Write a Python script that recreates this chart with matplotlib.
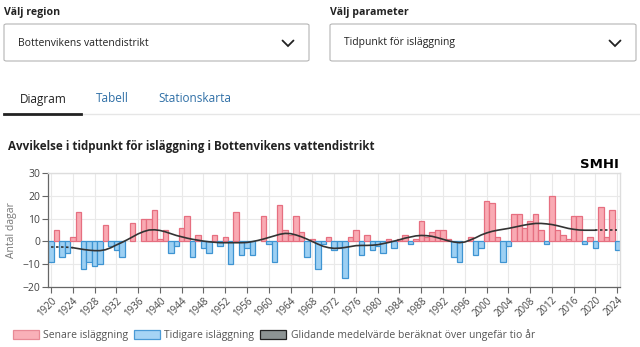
import matplotlib
matplotlib.use("Agg")
import matplotlib.pyplot as plt
from matplotlib.patches import FancyBboxPatch, Patch
from matplotlib.lines import Line2D
import numpy as np

plt.rcParams['font.family'] = ['Open Sans', 'DejaVu Sans']

# ---------------- data ----------------
years = list(range(1920, 2025))
deviation = [
    -9, 5, -7, -5, 2, 13, -12, -9, -11, -10,      # 1920-1929
    7, -2, -4, -7, 0, 8, 0, 10, 10, 14,           # 1930-1939
    1, 5, -5, -2, 6, 11, -7, 3, -3, -5,           # 1940-1949
    3, -2, 2, -10, 13, -6, -3, -6, 0, 11,         # 1950-1959
    -1, -9, 16, 5, 3, 11, 4, -7, 1, -12,          # 1960-1969
    -1, 2, -4, -3, -16, 2, 5, -6, 3, -4,          # 1970-1979
    -2, -5, 1, -3, 1, 3, -1, 1, 9, 2,             # 1980-1989
    4, 5, 5, 1, -7, -9, 0, 2, -6, -3,             # 1990-1999
    18, 17, 2, -9, -2, 12, 12, 6, 9, 12,          # 2000-2009
    5, -1, 20, 5, 3, 1, 11, 11, -1, 2,            # 2010-2019
    -3, 15, 2, 14, -4,                            # 2020-2024
]
moving_avg = [
    -2.5, -2.5, -2.5, -2.6, -2.8, -3.2, -3.6, -3.9, -4.1, -4.1,
    -3.7, -2.8, -1.6, -0.5, 0.7, 2.0, 3.3, 4.3, 5.0, 5.1,
    4.8, 4.2, 3.4, 2.6, 2.0, 1.4, 0.9, 0.5, 0.1, -0.2,
    -0.4, -0.6, -0.6, -0.6, -0.6, -0.6, -0.5, -0.1, 0.4, 1.0,
    1.7, 2.4, 3.1, 3.5, 3.4, 2.8, 2.0, 1.0, -0.1, -1.2,
    -2.2, -2.8, -3.1, -3.0, -2.7, -2.3, -1.9, -1.8, -1.8, -1.7,
    -1.5, -1.0, -0.5, 0.1, 0.7, 1.4, 1.9, 2.4, 2.6, 2.5,
    2.2, 1.6, 0.9, 0.2, -0.3, -0.6, -0.3, 0.6, 1.6, 2.8,
    3.7, 4.4, 4.9, 5.3, 5.7, 6.2, 6.7, 7.2, 7.6, 7.9,
    7.9, 7.7, 7.4, 6.9, 6.3, 5.7, 5.3, 5.0, 4.9, 4.9,
    4.9, 4.9, 4.9, 4.9, 4.9,
]
solid_start, solid_end = 1924, 2020
xtick_years = list(range(1920, 2025, 4))
yticks = [-20, -10, 0, 10, 20, 30]

title = "Avvikelse i tidpunkt för isläggning i Bottenvikens vattendistrikt"
legend_labels = ["Senare isläggning", "Tidigare isläggning",
                 "Glidande medelvärde beräknat över ungefär tio år"]

# ---------------- styles ----------------
RED_FC, RED_EC = '#f9aab3', '#e66f80'
BLUE_FC, BLUE_EC = '#9dd0f3', '#3e94d2'
LINE_C = '#333333'
W, H = 640, 347


def fx(x):
    return x / W


def fy(y):
    return 1 - y / H


fig = plt.figure(figsize=(6.4, 3.47), dpi=100)
fig.patch.set_facecolor('white')

# ---------------- header UI ----------------
fig.text(fx(4), fy(13), "Välj region", fontsize=7.6, fontweight='bold',
         color='#222222', va='center')
fig.text(fx(330), fy(13), "Välj parameter", fontsize=7.6, fontweight='bold',
         color='#222222', va='center')

for (x0, x1, label) in [(4, 309, "Bottenvikens vattendistrikt"),
                        (330, 636, "Tidpunkt för isläggning")]:
    box = FancyBboxPatch((fx(x0), fy(61)), fx(x1 - x0), 37 / H,
                         boxstyle='round,pad=0,rounding_size=0.004',
                         transform=fig.transFigure, fc='white',
                         ec='#b5b5b5', lw=0.8)
    fig.patches.append(box)
    fig.text(fx(x0 + 14), fy(43), label, fontsize=7.5, color='#222222',
             va='center')
    cx = x1 - 21
    fig.lines.append(Line2D([fx(cx - 5.5), fx(cx), fx(cx + 5.5)],
                            [fy(40.5), fy(46), fy(40.5)],
                            transform=fig.transFigure, color='#222222',
                            lw=1.3, solid_capstyle='round',
                            solid_joinstyle='miter'))

# tabs
fig.text(fx(20), fy(99), "Diagram", fontsize=8.5, color='#222222', va='center')
fig.text(fx(96), fy(99), "Tabell", fontsize=8.5, color='#2f6fa6', va='center')
fig.text(fx(158), fy(99), "Stationskarta", fontsize=8.5, color='#2f6fa6',
         va='center')
fig.lines.append(Line2D([fx(4), fx(640)], [fy(114), fy(114)],
                        transform=fig.transFigure, color='#e6e6e6', lw=1))
fig.lines.append(Line2D([fx(4), fx(81)], [fy(113.5), fy(113.5)],
                        transform=fig.transFigure, color='#222222', lw=2))

# title
fig.text(fx(8), fy(146), title, fontsize=8.4, fontweight='bold',
         color='#222222', va='center')

# SMHI logo
fig.text(fx(619), fy(164), "SMHI", fontsize=9.5, fontweight='bold',
         family=['Liberation Sans Narrow', 'DejaVu Sans'],
         color='black', ha='right', va='center')

# ---------------- chart ----------------
ax = fig.add_axes([fx(48.3), fy(286.7), (620 - 48.3) / W, (286.7 - 173.3) / H])
vals = np.array(deviation, dtype=float)
yrs = np.array(years)
fcs = [RED_FC if v >= 0 else BLUE_FC for v in vals]
ecs = [RED_EC if v >= 0 else BLUE_EC for v in vals]
lws = [0.9 if v != 0 else 0 for v in vals]
ax.bar(yrs, vals, width=1.0, color=fcs, edgecolor=ecs, linewidth=lws,
       zorder=2)

ma = np.array(moving_avg)
solid = (yrs >= solid_start) & (yrs <= solid_end)
ax.plot(yrs[solid], ma[solid], color=LINE_C, lw=1.2, zorder=3)
head = yrs <= solid_start
tail = yrs >= solid_end
ax.plot(yrs[head], ma[head], color=LINE_C, lw=1.2, ls=(0, (1.5, 1.5)), zorder=3)
ax.plot(yrs[tail], ma[tail], color=LINE_C, lw=1.2, ls=(0, (1.5, 1.5)), zorder=3)

ax.set_xlim(1919.5, 2024.5)
ax.set_ylim(-20, 30)
ax.set_xticks(xtick_years)
ax.set_xticklabels([str(y) for y in xtick_years], rotation=45, ha='right',
                   rotation_mode='anchor')
ax.set_yticks(yticks)
ax.grid(True, color='#e9e9e9', lw=0.8, zorder=0)
ax.set_axisbelow(True)
for s in ['top', 'right']:
    ax.spines[s].set_color('#dddddd')
    ax.spines[s].set_linewidth(1.0)
for s in ['left', 'bottom']:
    ax.spines[s].set_color('#666666')
    ax.spines[s].set_linewidth(0.9)
ax.tick_params(axis='both', length=4, width=0.8, color='#666666',
               labelsize=7, labelcolor='#444444', pad=2)
ax.tick_params(axis='y', labelsize=7.5)
ax.set_ylabel("Antal dagar", fontsize=7.5, color='#777777')
ax.yaxis.set_label_coords(-0.055, 0.5)

# legend
handles = [Patch(facecolor='#f9b0b8', edgecolor='#e88a96', lw=0.9),
           Patch(facecolor='#a6d4f5', edgecolor='#4a9ad6', lw=0.9),
           Patch(facecolor='#8d9494', edgecolor='#222222', lw=0.9)]
leg = fig.legend(handles, legend_labels, loc='center left',
                 bbox_to_anchor=(fx(12.7), fy(335)), ncol=3, frameon=False,
                 fontsize=7.5, handlelength=2.5, handleheight=1.0,
                 handletextpad=0.42, columnspacing=0.55, borderpad=0,
                 borderaxespad=0)
for t in leg.get_texts():
    t.set_color('#555555')

fig.savefig("out.png", dpi=100, facecolor='white')
